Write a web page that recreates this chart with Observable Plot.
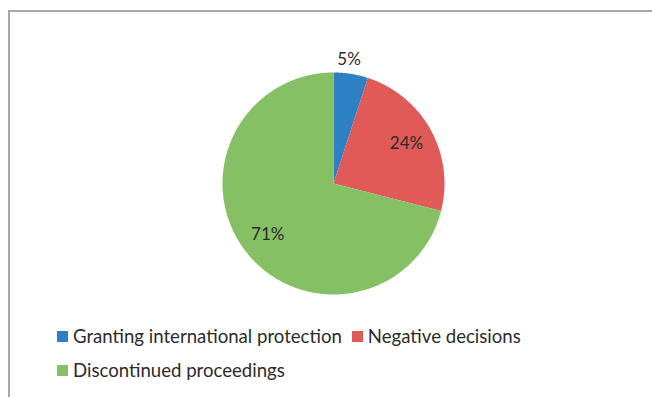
<!DOCTYPE html>
<html>
<head>
<meta charset="utf-8">
<script src="https://cdn.jsdelivr.net/npm/d3@7"></script>
<script src="https://cdn.jsdelivr.net/npm/@observablehq/plot@0.6"></script>
<style>
  html, body { margin: 0; padding: 0; background: #fff; }
  body { width: 652px; height: 397px; overflow: hidden; position: relative; font-family: Lato, "Open Sans", sans-serif; }
  #frame {
    position: absolute; left: 8px; top: 10px; right: 0; bottom: 0;
    border-left: 2px solid #a8a8a8; border-top: 2px solid #a8a8a8;
  }
  #chart svg { display: block; }
  .legend {
    margin-top: 7px; padding-left: 47px; width: 560px;
    display: flex; flex-wrap: wrap; font-size: 18.6px; color: #2b2b2b;
  }
  .legend .item { display: flex; align-items: center; height: 34px; margin-right: 10px; }
  .legend .swatch { width: 11px; height: 11px; margin-right: 5px; }
</style>
</head>
<body>
<div id="frame">
  <div id="chart"></div>
  <div class="legend" id="legend"></div>
</div>
<script>
// Decisions by outcome, in percent
const categories = ["Granting international protection", "Negative decisions", "Discontinued proceedings"];
const shares = [5, 24, 71];
const colors = ["#2d80c3", "#e05b58", "#86c064"];

const W = 642, H = 300;
const cx = 323, cy = 171, R = 111;

// Slice outlines: the centre plus points along the arc, clockwise from 12 o'clock
const total = d3.sum(shares);
const slices = [];
const labels = [];
let start = 0;
categories.forEach((name, i) => {
  const a0 = start / total * 2 * Math.PI;
  const a1 = (start + shares[i]) / total * 2 * Math.PI;
  slices.push({name, x: 0, y: 0});
  const steps = Math.max(2, Math.ceil((a1 - a0) / (Math.PI / 360)));
  for (let k = 0; k <= steps; k++) {
    const a = a0 + (a1 - a0) * k / steps;
    slices.push({name, x: Math.sin(a), y: Math.cos(a)});
  }
  const mid = (a0 + a1) / 2;
  const outside = shares[i] / total < 0.1;
  const r = outside ? 1.13 : 0.75;
  labels.push({name, text: shares[i] + "%", x: r * Math.sin(mid), y: r * Math.cos(mid), dx: outside ? -4 : 0});
  start += shares[i];
});

const chart = Plot.plot({
  width: W,
  height: H,
  margin: 0,
  style: {fontFamily: "Lato, 'Open Sans', sans-serif", background: "transparent"},
  x: {domain: [-cx / R, (W - cx) / R], axis: null},
  y: {domain: [-(H - cy) / R, cy / R], axis: null},
  color: {domain: categories, range: colors},
  marks: [
    Plot.line(slices, {x: "x", y: "y", z: "name", fill: "name", stroke: "none", curve: "linear-closed"}),
    Plot.text(labels.filter(d => d.dx === 0), {x: "x", y: "y", text: "text", fontSize: 17, fill: "#2b2b2b"}),
    Plot.text(labels.filter(d => d.dx !== 0), {x: "x", y: "y", text: "text", fontSize: 17, fill: "#2b2b2b", dx: -4})
  ]
});
document.getElementById("chart").appendChild(chart);

const legend = document.getElementById("legend");
categories.forEach((name, i) => {
  const item = document.createElement("div");
  item.className = "item";
  const sw = document.createElement("span");
  sw.className = "swatch";
  sw.style.background = colors[i];
  const label = document.createElement("span");
  label.textContent = name;
  item.appendChild(sw);
  item.appendChild(label);
  legend.appendChild(item);
});
</script>
</body>
</html>
